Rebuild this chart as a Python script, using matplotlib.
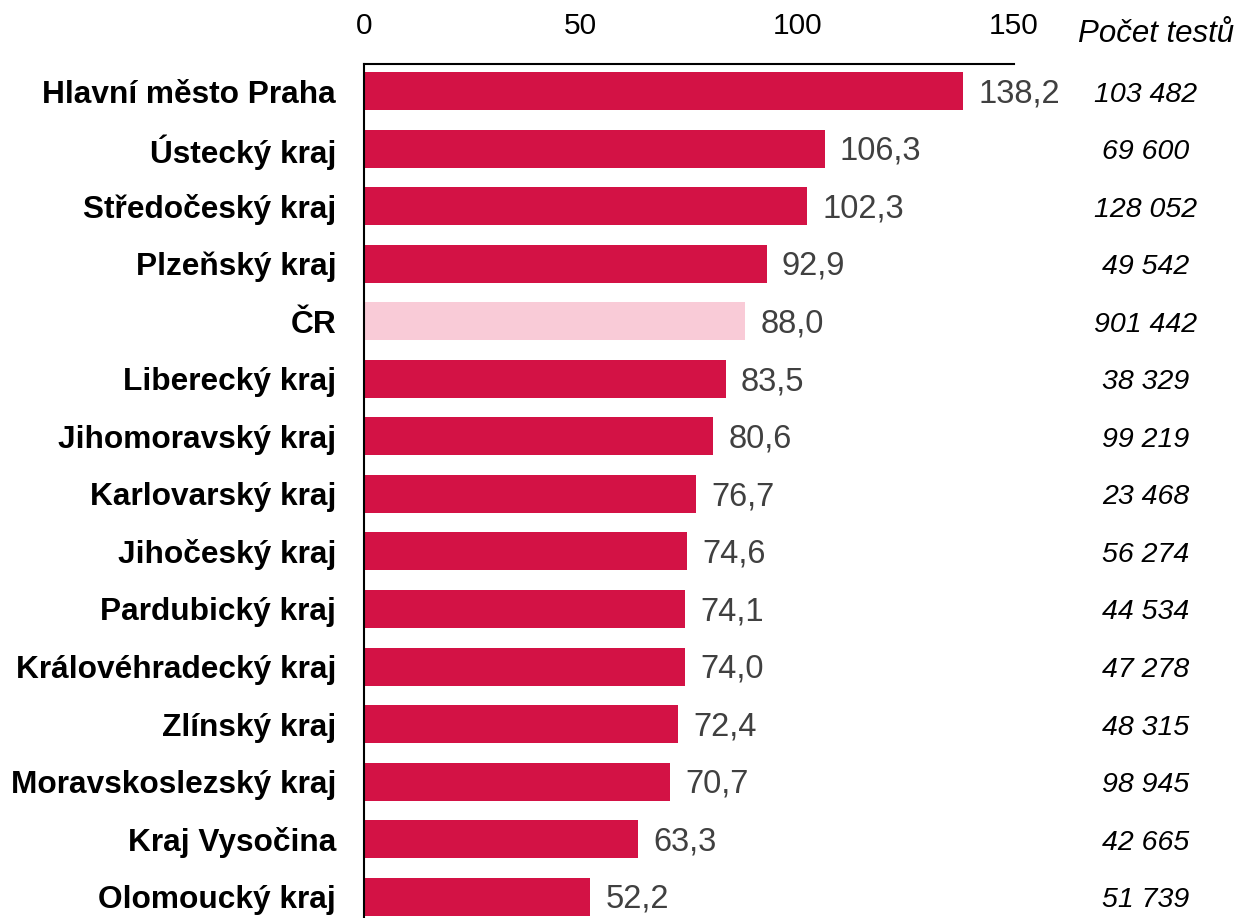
import matplotlib.pyplot as plt
import matplotlib.transforms as mtransforms

plt.rcParams['font.family'] = ['Liberation Sans', 'DejaVu Sans']

regions = ["Hlavní město Praha", "Ústecký kraj", "Středočeský kraj", "Plzeňský kraj",
           "ČR", "Liberecký kraj", "Jihomoravský kraj", "Karlovarský kraj",
           "Jihočeský kraj", "Pardubický kraj", "Královéhradecký kraj", "Zlínský kraj",
           "Moravskoslezský kraj", "Kraj Vysočina", "Olomoucký kraj"]
values = [138.2, 106.3, 102.3, 92.9, 88.0, 83.5, 80.6, 76.7, 74.6, 74.1, 74.0, 72.4,
          70.7, 63.3, 52.2]
tests = ["103 482", "69 600", "128 052", "49 542", "901 442", "38 329", "99 219",
         "23 468", "56 274", "44 534", "47 278", "48 315", "98 945", "42 665", "51 739"]
x_ticks = [0, 50, 100, 150]

bar_color = "#D31245"
cr_color = "#F9CBD7"

fig = plt.figure(figsize=(12.39, 9.18), dpi=100)
ax = fig.add_axes([364 / 1239, 0, 650 / 1239, (918 - 64) / 918])

ypos = list(range(len(regions)))
colors = [cr_color if r == "ČR" else bar_color for r in regions]
ax.barh(ypos, values, height=0.66, color=colors)

ax.set_xlim(0, 150)
ax.set_ylim(14.37, -0.47)
ax.set_yticks(ypos)
ax.set_yticklabels(regions, fontsize=22.8, fontweight='bold')
ax.set_xticks(x_ticks)
ax.set_xticklabels([str(t) for t in x_ticks], fontsize=21.5)
ax.xaxis.tick_top()
ax.tick_params(axis='x', length=0, pad=17)
ax.tick_params(axis='y', length=0, pad=20)

for s in ['right', 'bottom']:
    ax.spines[s].set_visible(False)
for s in ['top', 'left']:
    ax.spines[s].set_color('black')
    ax.spines[s].set_linewidth(1.5)

for y, v in zip(ypos, values):
    lbl = f"{v:.1f}".replace('.', ',')
    ax.annotate(lbl, (v, y), xytext=(11, -2), textcoords='offset points',
                va='center', ha='left', fontsize=23.5, color='#404040')

trans = mtransforms.blended_transform_factory(fig.transFigure, ax.transData)
for y, t in zip(ypos, tests):
    ax.annotate(t, (1146 / 1239, y), xycoords=trans, xytext=(0, -2.5),
                textcoords='offset points', ha='center', va='center',
                fontsize=20.5, fontstyle='italic', color='black')
fig.text(1156 / 1239, 1 - 34 / 918, "Počet testů", ha='center', va='center',
         fontsize=22.5, fontstyle='italic')

fig.savefig("out.png", dpi=100)
